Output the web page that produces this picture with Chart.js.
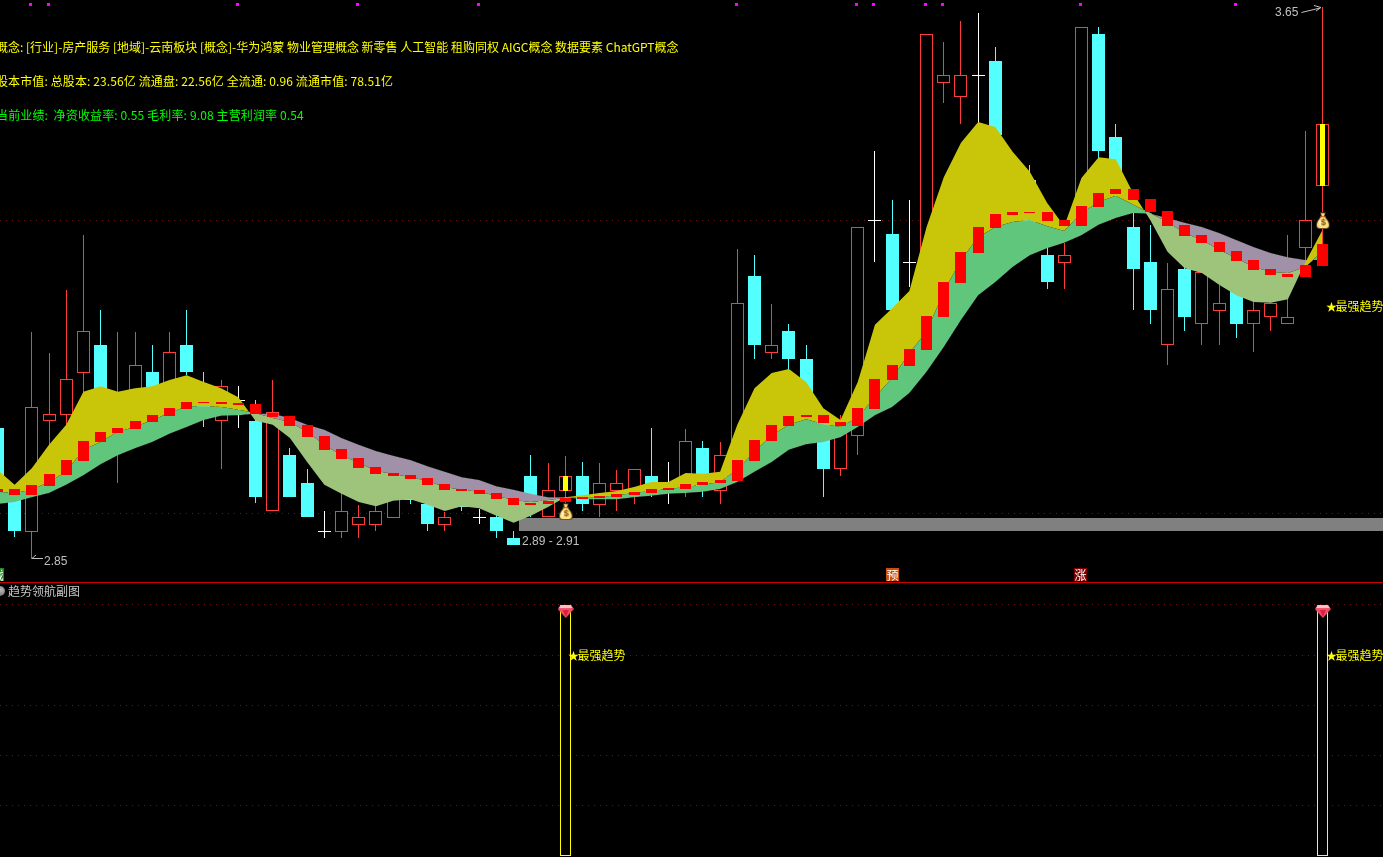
<!DOCTYPE html>
<html><head><meta charset="utf-8">
<script src="https://cdn.jsdelivr.net/npm/chart.js@4"></script>
<style>
html,body{margin:0;padding:0;background:#000;width:1383px;height:857px;overflow:hidden}
canvas{position:absolute;left:0;display:block}
.t{position:absolute;white-space:pre;font:12px/14px "Noto Sans CJK SC",sans-serif;color:#ffff00}
.n{position:absolute;white-space:pre;font:12px/14px "Liberation Sans",sans-serif;color:#c0c0c0}
.star{font-size:11px;letter-spacing:-1.5px}
</style></head><body>
<canvas id="main" width="1383" height="583" style="top:0"></canvas>
<canvas id="sub" width="1383" height="274" style="top:583px"></canvas>
<div style="position:absolute;left:0;top:582px;width:1383px;height:1px;background:#c80000"></div>
<svg width="1383" height="857" style="position:absolute;left:0;top:0" fill="none" stroke="#c0c0c0" stroke-width="1">
<path d="M1301.5 12.5L1320 8M1314 5.5L1321 7.5L1316 11"/>
<path d="M32 558.5H43M36 555L32 558.5"/>
</svg>
<div class="t" style="left:-4px;top:40px">概念: [行业]-房产服务 [地域]-云南板块 [概念]-华为鸿蒙 物业管理概念 新零售 人工智能 租购同权 AIGC概念 数据要素 ChatGPT概念</div>
<div class="t" style="left:-4px;top:74px;letter-spacing:.11px">股本市值: 总股本: 23.56亿 流通盘: 22.56亿 全流通: 0.96 流通市值: 78.51亿</div>
<div class="t" style="left:-4px;top:108px;color:#00ff00;letter-spacing:.13px">当前业绩:  净资收益率: 0.55 毛利率: 9.08 主营利润率 0.54</div>
<div class="n" style="left:1275px;top:5px">3.65</div>
<div class="n" style="left:44px;top:554px">2.85</div>
<div class="n" style="left:522px;top:534px">2.89 - 2.91</div>
<div class="t" style="left:1326px;top:299px"><span class="star">★</span>最强趋势</div>
<div class="t" style="left:568px;top:648px"><span class="star">★</span>最强趋势</div>
<div class="t" style="left:1326px;top:648px"><span class="star">★</span>最强趋势</div>
<div class="t" style="left:-9px;top:568px;width:13px;height:13px;background:#1c8c1c;color:#fff;text-align:center;line-height:13px">战</div>
<div class="t" style="left:886px;top:568px;width:13px;height:13px;background:#c8500f;color:#fff;text-align:center;line-height:13px">预</div>
<div class="t" style="left:1074px;top:568px;width:13px;height:13px;background:#800000;color:#fff;text-align:center;line-height:13px">涨</div>
<div style="position:absolute;left:-5px;top:586px;width:10px;height:10px;border-radius:50%;background:radial-gradient(circle at 60% 40%,#bbb,#555)"></div>
<div class="t" style="left:8px;top:584px;color:#c8c8c8">趋势领航副图</div>
<script>
const candleKind=['c','c','r','r','r','r','c','r','r','c','r','c','c','r','w','c','r','c','c','w','r','r','r','r','c','c','r','c','w','c','c','c','r','r','c','r','r','r','c','w','r','c','r','r','c','r','c','c','c','r','r','w','c','w','r','r','r','w','c','r','c','c','r','r','c','c','c','c','r','c','r','r','c','r','r','r','r','r'];
const highs=[3.039,2.950,3.179,3.148,3.240,3.319,3.211,3.179,3.179,3.160,3.179,3.211,3.121,3.109,3.100,3.080,3.109,3.010,2.980,2.919,2.945,2.928,2.928,2.950,2.964,2.938,2.918,2.957,2.922,2.913,2.890,3.000,2.989,2.999,2.990,2.989,2.979,2.980,3.039,2.990,3.038,3.021,3.019,3.299,3.290,3.219,3.190,3.160,3.066,3.058,3.331,3.441,3.370,3.370,3.611,3.599,3.630,3.641,3.592,3.421,3.421,3.300,3.308,3.621,3.621,3.480,3.351,3.334,3.279,3.273,3.276,3.247,3.247,3.222,3.222,3.319,3.470,3.650];
const bodyTops=[3.039,2.950,3.070,3.060,3.110,3.180,3.160,3.087,3.131,3.121,3.150,3.160,3.095,3.100,3.080,3.050,3.063,3.000,2.960,2.890,2.919,2.910,2.919,2.945,2.957,2.929,2.910,2.950,2.910,2.910,2.880,2.970,2.950,2.970,2.970,2.960,2.960,2.980,2.970,2.950,3.021,3.010,3.000,3.221,3.260,3.160,3.180,3.139,3.058,3.051,3.331,3.341,3.321,3.280,3.611,3.551,3.551,3.551,3.572,3.414,3.399,3.290,3.290,3.621,3.611,3.461,3.331,3.280,3.241,3.270,3.266,3.221,3.240,3.211,3.221,3.200,3.341,3.480];
const bodyBottoms=[2.947,2.890,2.889,3.050,3.058,3.119,3.092,3.051,3.095,3.087,3.102,3.121,3.058,3.050,3.080,2.939,2.919,2.939,2.910,2.890,2.889,2.899,2.899,2.909,2.935,2.900,2.899,2.925,2.910,2.890,2.870,2.935,2.910,2.948,2.929,2.928,2.948,2.947,2.942,2.950,2.950,2.950,2.948,2.979,3.160,3.148,3.139,3.080,2.980,2.980,3.028,3.341,3.211,3.280,3.225,3.540,3.519,3.551,3.464,3.356,3.334,3.251,3.279,3.348,3.441,3.384,3.270,3.211,3.160,3.200,3.190,3.209,3.190,3.190,3.200,3.190,3.300,3.390];
const lows=[2.935,2.881,2.849,2.971,3.022,3.080,3.080,2.960,3.066,3.066,3.087,3.116,3.041,2.980,3.039,2.931,2.919,2.939,2.910,2.880,2.880,2.880,2.890,2.909,2.929,2.890,2.890,2.919,2.900,2.880,2.870,2.910,2.910,2.921,2.919,2.910,2.919,2.929,2.939,2.929,2.939,2.939,2.929,2.964,3.139,3.139,3.124,3.066,2.939,2.970,3.000,3.280,3.203,3.244,3.211,3.511,3.480,3.482,3.457,3.348,3.329,3.241,3.241,3.341,3.431,3.370,3.211,3.190,3.131,3.180,3.160,3.160,3.170,3.150,3.180,3.190,3.280,3.305];
const trendTops=[2.951,2.951,2.957,2.973,2.993,3.021,3.034,3.039,3.050,3.058,3.068,3.077,3.077,3.077,3.076,3.074,3.061,3.057,3.044,3.028,3.009,2.996,2.983,2.974,2.971,2.967,2.958,2.951,2.950,2.945,2.938,2.931,2.934,2.938,2.939,2.941,2.944,2.947,2.951,2.952,2.958,2.961,2.964,2.993,3.022,3.044,3.057,3.058,3.058,3.048,3.068,3.110,3.131,3.154,3.202,3.251,3.295,3.331,3.350,3.353,3.353,3.353,3.341,3.361,3.380,3.386,3.386,3.371,3.354,3.334,3.319,3.309,3.296,3.283,3.270,3.263,3.276,3.306];
const trendBottoms=[2.947,2.942,2.942,2.955,2.971,2.992,3.019,3.032,3.038,3.048,3.057,3.067,3.076,3.074,3.073,3.060,3.055,3.042,3.026,3.008,2.994,2.981,2.973,2.970,2.965,2.957,2.950,2.948,2.944,2.936,2.928,2.928,2.929,2.932,2.936,2.938,2.939,2.942,2.945,2.950,2.951,2.957,2.960,2.963,2.992,3.021,3.042,3.055,3.047,3.042,3.042,3.067,3.109,3.129,3.153,3.200,3.250,3.293,3.329,3.348,3.351,3.340,3.332,3.332,3.360,3.379,3.370,3.353,3.332,3.318,3.308,3.295,3.282,3.269,3.261,3.258,3.258,3.274];
const bandFast=[2.979,2.957,2.981,3.015,3.044,3.092,3.100,3.092,3.097,3.100,3.109,3.116,3.106,3.097,3.084,3.050,3.044,3.025,2.990,2.957,2.944,2.932,2.926,2.934,2.936,2.928,2.919,2.926,2.923,2.912,2.902,2.912,2.925,2.939,2.942,2.945,2.948,2.954,2.961,2.961,2.974,2.973,2.976,3.044,3.097,3.119,3.125,3.106,3.068,3.051,3.106,3.189,3.213,3.238,3.331,3.403,3.453,3.483,3.476,3.440,3.411,3.366,3.332,3.402,3.432,3.429,3.380,3.341,3.295,3.271,3.264,3.247,3.232,3.222,3.221,3.226,3.279,3.326];
const bandMid=[2.947,2.945,2.950,2.961,2.976,3.008,3.019,3.034,3.041,3.051,3.061,3.071,3.071,3.070,3.066,3.061,3.054,3.048,3.034,3.015,3.000,2.989,2.977,2.973,2.968,2.963,2.954,2.950,2.947,2.941,2.935,2.932,2.935,2.938,2.939,2.939,2.942,2.945,2.948,2.951,2.954,2.957,2.961,2.979,3.005,3.029,3.044,3.052,3.045,3.041,3.055,3.084,3.112,3.148,3.179,3.237,3.283,3.316,3.331,3.338,3.341,3.332,3.325,3.351,3.367,3.376,3.363,3.351,3.338,3.322,3.312,3.298,3.286,3.273,3.266,3.264,3.273,3.295];
const bandSlow=[2.929,2.932,2.939,2.945,2.957,2.971,2.987,3.000,3.010,3.019,3.031,3.041,3.051,3.057,3.058,3.060,3.060,3.054,3.044,3.037,3.025,3.015,3.006,2.999,2.993,2.984,2.976,2.968,2.964,2.955,2.950,2.944,2.939,2.939,2.936,2.936,2.936,2.939,2.941,2.944,2.945,2.947,2.951,2.961,2.976,2.990,3.008,3.016,3.019,3.026,3.041,3.058,3.070,3.090,3.121,3.157,3.196,3.232,3.251,3.273,3.290,3.300,3.308,3.319,3.334,3.344,3.351,3.350,3.344,3.337,3.331,3.322,3.312,3.302,3.293,3.287,3.283,3.283];
const signalIdx=[33,77];
const signalBagPrice=[2.918,3.340];
const signalBodyTop=[2.970,3.480];
const signalBodyBottom=[2.948,3.390];
const zoneX=[30.31,81];
const zoneHigh=2.9089, zoneLow=2.8900;
const markerIdx=[2,3,14,21,28,43,50,51,54,55,63,72];
const markerRange=[3.651,3.656];
const mainGrid=[3.341,2.915];
const subGrid=[1,0.8,0.6,0.4,0.2];
const subIdx=[33,77];
const subValues=[1,1];
const gemValue=0.974;

const SLOT=17.207, XMIN=2.6/SLOT, XMAX=XMIN+1383/SLOT;
const RED='#ff3c3c',CYAN='#54ffff';
const bar=(t)=>({type:'bar',grouped:false,barPercentage:1,categoryPercentage:1,maxBarThickness:t,borderSkipped:false,inflateAmount:0});
const pts=(arr)=>arr.map((v,i)=>({x:i,y:v}));

function bagIcon(){
  const c=document.createElement('canvas');c.width=14;c.height=17;const g=c.getContext('2d');
  g.fillStyle='#3a2a10';g.beginPath();g.moveTo(4,0);g.lineTo(10,0);g.lineTo(9,4);g.quadraticCurveTo(14.5,9,14,13);g.quadraticCurveTo(14,17,10,17);g.lineTo(4,17);g.quadraticCurveTo(0,17,0,13);g.quadraticCurveTo(-.5,9,5,4);g.closePath();g.fill();
  g.fillStyle='#ffe27a';g.beginPath();g.moveTo(5,1);g.lineTo(9,1);g.lineTo(8,4);g.quadraticCurveTo(13,9,13,13);g.quadraticCurveTo(13,16,10,16);g.lineTo(4,16);g.quadraticCurveTo(1,16,1,13);g.quadraticCurveTo(1,9,6,4);g.closePath();g.fill();
  g.fillStyle='#fff6c8';g.fillRect(3,8,2,5);
  g.fillStyle='#c8503a';g.fillRect(4,4,6,1);
  g.fillStyle='#8a4a1a';g.font='bold 9px "Liberation Sans"';g.textAlign='center';g.textBaseline='middle';g.fillText('$',7.5,11);
  return c;
}
function gemIcon(){
  const c=document.createElement('canvas');c.width=16;c.height=13;const g=c.getContext('2d');
  g.fillStyle='#f2506a';g.beginPath();g.moveTo(3,0);g.lineTo(13,0);g.lineTo(16,4);g.lineTo(8,13);g.lineTo(0,4);g.closePath();g.fill();
  g.fillStyle='#ffc0c8';g.beginPath();g.moveTo(3,0);g.lineTo(13,0);g.lineTo(15,3);g.lineTo(1,3);g.closePath();g.fill();
  g.fillStyle='#ffd24a';g.fillRect(3,0,10,1);
  g.fillStyle='#d81e3c';g.beginPath();g.moveTo(5,5);g.lineTo(11,5);g.lineTo(8,12);g.closePath();g.fill();
  return c;
}

const snapBars={id:'snapBars',afterDatasetsUpdate(chart){
  chart.data.datasets.forEach((ds,i)=>{
    if(ds.type!=='bar')return;
    chart.getDatasetMeta(i).data.forEach(el=>{
      el.x=Math.floor(el.x)+0.5+(ds.snapShift||0);
      el.y=Math.round(el.y);el.base=Math.round(el.base);
      if(el.y===el.base)el.base=el.y+1;
    });
  });
}};

const yAxis=(min,max,grid)=>({min,max,display:true,afterBuildTicks:s=>{s.ticks=grid.map(v=>({value:v}));},
  ticks:{display:false,autoSkip:false},border:{display:false,dash:[1,5]},grid:{color:'#701616',lineWidth:1,drawTicks:false}});
const xAxis={type:'linear',min:XMIN,max:XMAX,offset:false,display:false};
const common={responsive:false,animation:false,events:[],layout:{padding:0,autoPadding:false},plugins:{legend:{display:false},tooltip:{enabled:false},title:{display:false}}};
const kindColor=k=>k==='c'?CYAN:k==='r'?RED:'#ffffff';
const IDX={fast:5,mid:6,slow:7};
const lineBase={type:'line',pointRadius:0,borderWidth:0,borderColor:'transparent',tension:0};

new Chart(document.getElementById('main'),{
  type:'bar',plugins:[snapBars],
  data:{datasets:[
    Object.assign(bar(1),{order:90,data:highs.map((h,i)=>({x:i,y:[lows[i],h]})),backgroundColor:candleKind.map(kindColor)}),
    Object.assign(bar(13),{order:80,data:bodyTops.map((t,i)=>({x:i,y:[bodyBottoms[i],t]})),
      backgroundColor:candleKind.map(k=>k==='r'?'#000000':kindColor(k)),borderColor:candleKind.map(kindColor),borderWidth:candleKind.map(k=>k==='r'?1:0)}),
    Object.assign(bar(5),{order:75,data:signalIdx.map((x,i)=>({x,y:[signalBodyBottom[i],signalBodyTop[i]]})),backgroundColor:'#ffff00'}),
    Object.assign({},lineBase,{order:70,data:zoneX.map(x=>({x,y:zoneHigh})),fill:{target:4},backgroundColor:'#808080'}),
    Object.assign({},lineBase,{order:70,data:zoneX.map(x=>({x,y:zoneLow})),fill:false}),
    Object.assign({},lineBase,{order:60,data:pts(bandFast),fill:{target:IDX.mid,above:'#c9c60a',below:'#9dc47a'}}),
    Object.assign({},lineBase,{order:61,data:pts(bandMid),fill:{target:IDX.slow,above:'#60c67c',below:'#a090a8'}}),
    Object.assign({},lineBase,{order:62,data:pts(bandSlow),fill:false}),
    Object.assign(bar(11),{order:50,data:trendTops.map((t,i)=>({x:i,y:[trendBottoms[i],t]})),backgroundColor:'#ff0000'}),
    Object.assign(bar(3),{order:40,snapShift:-1,data:markerIdx.map(x=>({x,y:markerRange})),backgroundColor:'#ff00ff'}),
    {type:'line',order:10,showLine:false,data:signalIdx.map((x,i)=>({x:x+0.03,y:signalBagPrice[i]})),pointStyle:bagIcon(),pointRadius:7}
  ]},
  options:Object.assign({},common,{scales:{x:xAxis,y:yAxis(3.66-583*0.00145,3.66,mainGrid)}})
});

new Chart(document.getElementById('sub'),{
  type:'bar',plugins:[snapBars],
  data:{datasets:[
    Object.assign(bar(11),{order:20,data:subIdx.map((x,i)=>({x,y:[0,subValues[i]]})),backgroundColor:'#000000',borderColor:'#ffff00',borderWidth:1}),
    {type:'line',order:10,showLine:false,data:subIdx.map(x=>({x:x+0.03,y:gemValue})),pointStyle:gemIcon(),pointRadius:8}
  ]},
  options:Object.assign({},common,{scales:{x:xAxis,y:yAxis(-1/251,273/251,subGrid)}})
});
</script>
</body></html>
